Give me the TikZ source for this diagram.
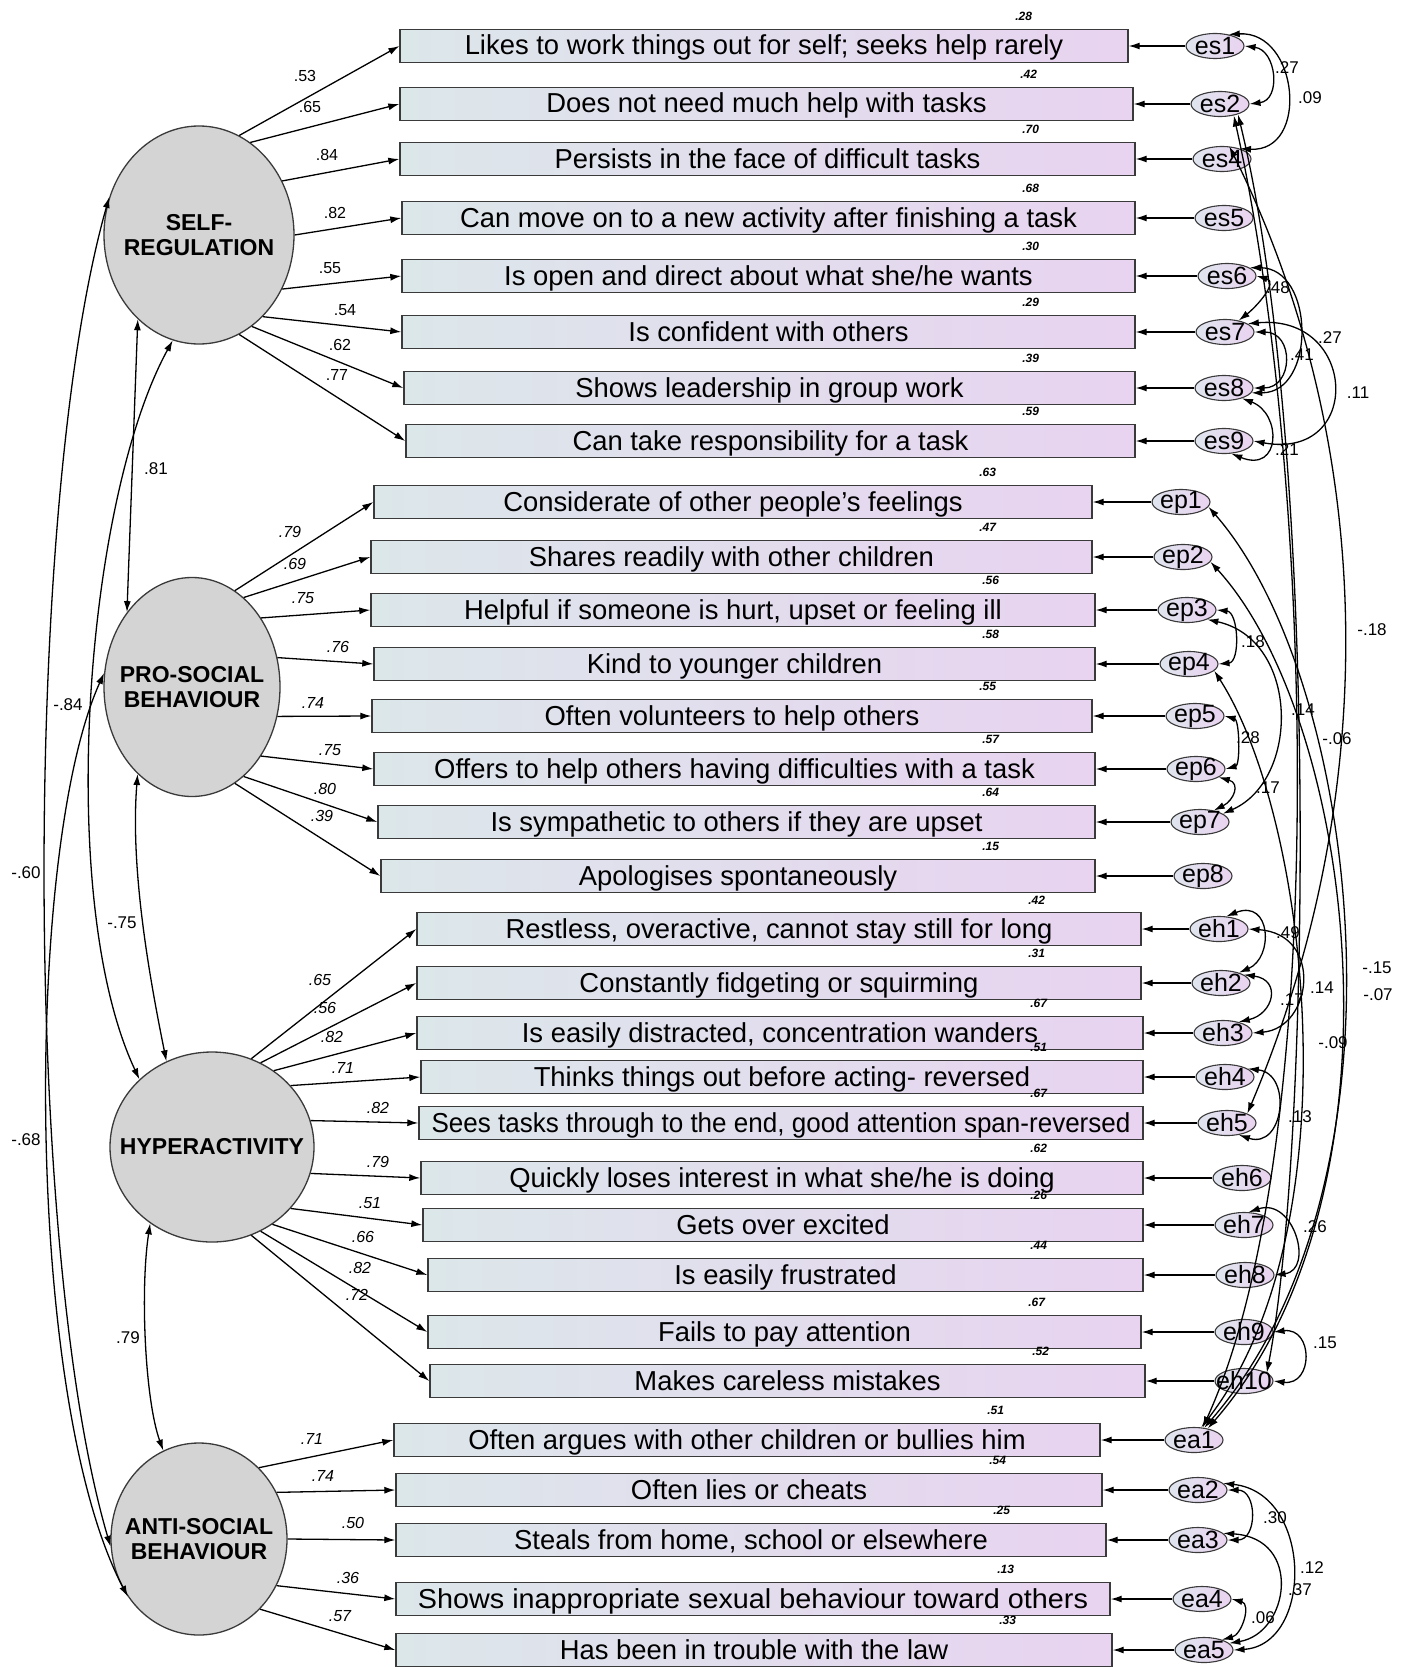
\documentclass[tikz,border=0pt]{standalone}
\usepackage{fontspec}
\setmainfont{Liberation Sans}
\usetikzlibrary{shapes.geometric,arrows.meta}

\definecolor{latentgray}{HTML}{D4D4D4}
\definecolor{itemleft}{HTML}{DCE7EA}
\definecolor{itemright}{HTML}{E8D3F0}
\definecolor{errleft}{HTML}{DFE5EE}
\definecolor{errright}{HTML}{EAD3F0}
\definecolor{linegray}{HTML}{3A3A3A}

\tikzset{
  latent/.style={ellipse, draw=linegray, line width=1.3pt, fill=latentgray, inner sep=0pt},
  lattxt/.style={font=\fontsize{23}{25}\selectfont\bfseries, align=center},
  item/.style={draw=linegray, line width=1.4pt, left color=itemleft, right color=itemright,
    minimum height=33pt, inner sep=0pt, text height=22pt, text depth=4pt, font=\fontsize{27.4}{30}\selectfont},
  err/.style={ellipse, draw=linegray, line width=1.1pt, left color=errleft, right color=errright,
    minimum width=58pt, minimum height=25pt, inner sep=0pt},
  errtxt/.style={font=\fontsize{25}{25}\selectfont, inner sep=0pt},
  load/.style={-{Latex[length=11pt,width=7pt]}, line width=1.3pt},
  cov/.style={{Latex[length=11pt,width=7pt]}-{Latex[length=11pt,width=7pt]}, line width=1.3pt},
  wt/.style={font=\fontsize{16}{16}\selectfont},
  wti/.style={font=\fontsize{16}{16}\selectfont\itshape},
  rsq/.style={font=\fontsize{12}{12}\selectfont\bfseries\itshape},
  cl/.style={font=\fontsize{17}{17}\selectfont},
}

\begin{document}
\begin{tikzpicture}[x=1pt,y=-1pt]
          \path[use as bounding box, fill=white] (0,0) rectangle (1409,1667);

          \node[latent, minimum width=190pt, minimum height=218pt] (SR) at (199,235) {};
          \node[lattxt] (SRt) at (SR) {SELF-\\REGULATION};
          \node[latent, minimum width=176pt, minimum height=219pt] (PS) at (192,687) {};
          \node[lattxt] (PSt) at (PS) {PRO-SOCIAL\\BEHAVIOUR};
          \node[latent, minimum width=204pt, minimum height=190pt] (HY) at (212,1147) {};
          \node[lattxt] (HYt) at (HY) {HYPERACTIVITY};
          \node[latent, minimum width=176pt, minimum height=192pt] (AS) at (199,1539) {};
          \node[lattxt] (ASt) at (AS) {ANTI-SOCIAL\\BEHAVIOUR};

          \foreach \i/\xa/\xb/\y/\txt/\q in {
            1/400/1128/46/{Likes to work things out for self; seeks help rarely}/.28,
            2/400/1133/104/{Does not need much help with tasks}/.42,
            3/400/1135/159/{Persists in the face of difficult tasks}/.70,
            4/402/1135/218/{Can move on to a new activity after finishing a task}/.68,
            5/402/1135/276/{Is open and direct about what she/he wants}/.30,
            6/402/1135/332/{Is confident with others}/.29,
            7/404/1135/388/{Shows leadership in group work}/.39,
            8/406/1135/441/{Can take responsibility for a task}/.59} {
            \pgfmathsetmacro\w{\xb-\xa}
            \node[item, minimum width=\w pt] (s\i) at ({(\xa+\xb)/2},\y) {\txt};
            \node[rsq] (rs\i) at ([xshift=-105pt,yshift=12pt]s\i.north east) {\q};
          }

          \foreach \i/\xa/\xb/\y/\txt/\q in {
            1/374/1092/502/{Considerate of other people's feelings}/.63,
            2/371/1092/557/{Shares readily with other children}/.47,
            3/371/1095/610/{Helpful if someone is hurt, upset or feeling ill}/.56,
            4/374/1095/664/{Kind to younger children}/.58,
            5/372/1092/716/{Often volunteers to help others}/.55,
            6/374/1095/769/{Offers to help others having difficulties with a task}/.57,
            7/378/1095/822/{Is sympathetic to others if they are upset}/.64,
            8/381/1095/876/{Apologises spontaneously}/.15} {
            \pgfmathsetmacro\w{\xb-\xa}
            \node[item, minimum width=\w pt] (p\i) at ({(\xa+\xb)/2},\y) {\txt};
            \node[rsq] (rp\i) at ([xshift=-105pt,yshift=12pt]p\i.north east) {\q};
          }

          \foreach \i/\xa/\xb/\y/\txt/\q in {
            1/417/1141/929/{Restless, overactive, cannot stay still for long}/.42,
            2/417/1141/983/{Constantly fidgeting or squirming}/.31,
            3/417/1143/1033/{Is easily distracted, concentration wanders}/.67,
            4/421/1143/1077/{Thinks things out before acting- reversed}/.51,
            5/419/1143/1123/{\scalebox{0.95}[1]{Sees tasks through to the end, good attention span-reversed}}/.67,
            6/421/1143/1178/{Quickly loses interest in what she/he is doing}/.62,
            7/423/1143/1225/{Gets over excited}/.26,
            8/428/1143/1275/{Is easily frustrated}/.44,
            9/428/1141/1332/{Fails to pay attention}/.67,
            10/430/1145/1381/{Makes careless mistakes}/.52} {
            \pgfmathsetmacro\w{\xb-\xa}
            \node[item, minimum width=\w pt] (h\i) at ({(\xa+\xb)/2},\y) {\txt};
            \node[rsq] (rh\i) at ([xshift=-105pt,yshift=12pt]h\i.north east) {\q};
          }

          \foreach \i/\xa/\xb/\y/\txt/\q in {
            1/394/1100/1440/{Often argues with other children or bullies him}/.51,
            2/396/1102/1490/{Often lies or cheats}/.54,
            3/396/1106/1540/{Steals from home, school or elsewhere}/.25,
            4/396/1110/1599/{\scalebox{1.05}[1]{Shows inappropriate sexual behaviour toward others}}/.13,
            5/396/1112/1650/{Has been in trouble with the law}/.33} {
            \pgfmathsetmacro\w{\xb-\xa}
            \node[item, minimum width=\w pt] (a\i) at ({(\xa+\xb)/2},\y) {\txt};
            \node[rsq] (ra\i) at ([xshift=-105pt,yshift=12pt]a\i.north east) {\q};
          }

          \foreach \i/\e/\x/\y in {1/es1/1215/46, 2/es2/1220/104, 3/es4/1222/159, 4/es5/1224/218,
                                    5/es6/1227/276, 6/es7/1225/332, 7/es8/1224/388, 8/es9/1224/441} {
            \node[err] (\e) at (\x,\y) {};
            \node[errtxt] (t\e) at (\e) {\e};
            \draw[load] (\e) -- (s\i);
          }
          \foreach \i/\e/\x/\y in {1/ep1/1181/502, 2/ep2/1183/557, 3/ep3/1187/610, 4/ep4/1189/664,
                                    5/ep5/1195/716, 6/ep6/1196/769, 7/ep7/1200/822, 8/ep8/1203/876} {
            \node[err] (\e) at (\x,\y) {};
            \node[errtxt] (t\e) at (\e) {\e};
            \draw[load] (\e) -- (p\i);
          }
          \foreach \i/\e/\x/\y in {1/eh1/1219/929, 2/eh2/1221/983, 3/eh3/1223/1033, 4/eh4/1225/1077,
                                    5/eh5/1227/1123, 6/eh6/1242/1178, 7/eh7/1244/1225, 8/eh8/1245/1275,
                                    9/eh9/1244/1332, 10/eh10/1244/1381} {
            \node[err] (\e) at (\x,\y) {};
            \node[errtxt] (t\e) at (\e) {\e};
            \draw[load] (\e) -- (h\i);
          }
          \foreach \i/\e/\x/\y in {1/ea1/1194/1440, 2/ea2/1198/1490, 3/ea3/1198/1540,
                                    4/ea4/1202/1599, 5/ea5/1204/1650} {
            \node[err] (\e) at (\x,\y) {};
            \node[errtxt] (t\e) at (\e) {\e};
            \draw[load] (\e) -- (a\i);
          }

          \foreach \i/\a/\lx/\ly/\v in {1/68/305/76/.53, 2/61/310/107/.65, 3/33/327/155/.84, 4/0/335/213/.82,
                                         5/-33/330/268/.55, 6/-52/345/310/.54, 7/-60/340/345/.62, 8/-68/337/375/.77} {
            \draw[load] (SR.\a) -- (s\i.west);
            \node[wt] (ls\i) at (\lx,\ly) {\v};
          }
          \foreach \i/\a/\lx/\ly/\v in {1/66/290/532/.79, 2/60/295/564/.69, 3/45/303/598/.75, 4/19/338/647/.76,
                                         5/-19/313/703/.74, 6/-45/330/750/.75, 7/-60/325/789/.80, 8/-66/322/816/.39} {
            \draw[load] (PS.\a) -- (p\i.west);
            \node[wti] (lp\i) at (\lx,\ly) {\v};
          }
          \foreach \i/\a/\lx/\ly/\v in {1/66/320/980/.65, 2/60/325/1008/.56, 3/51/332/1037/.82, 4/38/343/1068/.71,
                                         5/15/378/1108/.82, 6/-15/378/1162/.79, 7/-38/370/1203/.51, 8/-52/363/1237/.66,
                                         9/-60/360/1268/.82, 10/-66/357/1295/.72} {
            \draw[load] (HY.\a) -- (h\i.west);
            \node[wti] (lh\i) at (\lx,\ly) {\v};
          }
          \foreach \i/\a/\lx/\ly/\v in {1/50/312/1439/.71, 2/31/323/1476/.74, 3/0/353/1523/.50,
                                         4/-31/348/1578/.36, 5/-49/340/1616/.57} {
            \draw[load] (AS.\a) -- (a\i.west);
            \node[wti] (la\i) at (\lx,\ly) {\v};
          }

          \draw[cov] (SR.234) -- (PS.131);
          \node[cl] (c1) at (156,469) {.81};
          \draw[cov] (SR.256) .. controls (85,500) and (55,900) .. (HY.137);
          \node[cl] (c2) at (68,705) {-.84};
          \draw[cov] (SR.157) .. controls (23,500) and (23,1250) .. (AS.185);
          \node[cl] (c3) at (26,873) {-.60};
          \draw[cov] (PS.171) .. controls (24,850) and (24,1400) .. (AS.219);
          \node[cl] (c4) at (26,1140) {-.68};
          \draw[cov] (PS.238) .. controls (130,870) and (150,980) .. (HY.118);
          \node[cl] (c5) at (122,923) {-.75};
          \draw[cov] (HY.231) .. controls (140,1290) and (145,1400) .. (AS.112);
          \node[cl] (c6) at (128,1338) {.79};

          \draw[cov] (es1.east) .. controls +(32,4) and +(32,-4) .. (es2.east);
          \node[cl] (k1) at (1287,68) {.27};
          \draw[cov] (es1.40) .. controls +(70,-4) and +(70,4) .. (es4.30);
          \node[cl] (k2) at (1310,98) {.09};
          \draw[cov] (es2.-30) .. controls (1320,450) and (1310,1150) .. (eh10.20);
          \node[cl] (k3) at (1337,739) {-.06};
          \draw[cov] (es2.-40) .. controls (1315,480) and (1330,1150) .. (ea1.55);
          \node[cl] (k4) at (1303,710) {.14};
          \draw[cov] (es4.60) .. controls (1380,450) and (1380,800) .. (eh5.25);
          \node[cl] (k5) at (1372,630) {-.18};
          \draw[cov] (es6.east) .. controls +(22,6) and +(18,-14) .. (es7.40);
          \node[cl] (k6) at (1278,288) {.48};
          \draw[cov] (es6.20) .. controls +(65,0) and +(65,0) .. (es8.-10);
          \node[cl] (k7) at (1330,338) {.27};
          \draw[cov] (es7.east) .. controls +(40,0) and +(40,0) .. (es8.east);
          \node[cl] (k8) at (1302,355) {.41};
          \draw[cov] (es7.20) .. controls +(110,-10) and +(110,20) .. (es9.east);
          \node[cl] (k9) at (1358,393) {.11};
          \draw[cov] (es8.-30) .. controls +(40,15) and +(50,20) .. (es9.-60);
          \node[cl] (k10) at (1287,450) {.21};

          \draw[cov] (ep3.east) .. controls +(22,2) and +(22,-2) .. (ep4.east);
          \node[cl] (k11) at (1253,642) {.18};
          \draw[cov] (ep3.-25) .. controls (1300,640) and (1300,780) .. (ep7.20);
          \node[cl] (k12) at (1268,788) {.17};
          \draw[cov] (ep5.east) .. controls +(15,4) and +(15,-4) .. (ep6.east);
          \node[cl] (k13) at (1248,738) {.28};
          \draw[cov] (ep6.-20) .. controls +(22,6) and +(20,-10) .. (ep7.40);
          \draw[cov] (ep1.-10) .. controls (1360,680) and (1420,1180) .. (ea1.50);
          \node[cl] (k14) at (1377,968) {-.15};
          \draw[cov] (ep2.-10) .. controls (1355,720) and (1415,1190) .. (ea1.40);
          \node[cl] (k15) at (1378,995) {-.07};
          \draw[cov] (ep4.-15) .. controls (1310,820) and (1355,1230) .. (ea1.60);
          \node[cl] (k16) at (1333,1043) {-.09};

          \draw[cov] (eh1.60) .. controls +(45,-18) and +(35,-15) .. (eh2.30);
          \node[cl] (k17) at (1288,933) {.49};
          \draw[cov] (eh1.east) .. controls +(75,5) and +(60,-5) .. (eh3.east);
          \node[cl] (k18) at (1322,988) {.14};
          \draw[cov] (eh2.20) .. controls +(38,5) and +(35,-8) .. (eh3.35);
          \node[cl] (k19) at (1292,1000) {.17};
          \draw[cov] (eh4.20) .. controls +(45,5) and +(45,15) .. (eh5.-45);
          \node[cl] (k20) at (1300,1117) {.13};
          \draw[cov] (eh7.70) .. controls +(45,-15) and +(40,-5) .. (eh8.east);
          \node[cl] (k21) at (1315,1227) {.26};
          \draw[cov] (eh9.east) .. controls +(40,-5) and +(40,5) .. (eh10.east);
          \node[cl] (k22) at (1325,1343) {.15};

          \draw[cov] (ea2.east) .. controls +(30,0) and +(30,0) .. (ea3.east);
          \node[cl] (k23) at (1275,1518) {.30};
          \draw[cov] (ea2.15) .. controls +(90,10) and +(80,-5) .. (ea5.east);
          \node[cl] (k24) at (1312,1568) {.12};
          \draw[cov] (ea3.15) .. controls +(80,5) and +(60,-10) .. (ea5.15);
          \node[cl] (k25) at (1300,1590) {.37};
          \draw[cov] (ea4.east) .. controls +(20,5) and +(20,-5) .. (ea5.30);
          \node[cl] (k26) at (1263,1618) {.06};
\end{tikzpicture}
\end{document}
